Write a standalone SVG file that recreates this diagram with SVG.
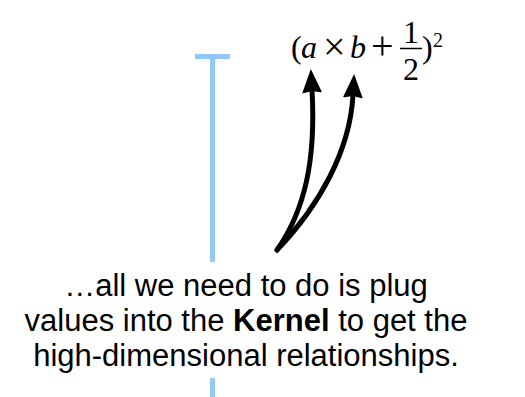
<svg xmlns="http://www.w3.org/2000/svg" width="525" height="397" viewBox="0 0 525 397">
<defs>
<style>
.axis{stroke:#90C8F8;stroke-width:5;fill:none}
.arrow{stroke:#000;stroke-width:5;fill:none;stroke-linecap:round}
.math{font-family:"Liberation Serif",serif;font-size:32px;fill:#000}
.op{font-size:40px}
.it{font-style:italic}
.caption{font-family:"Liberation Sans",Arial,sans-serif;font-size:31px;fill:#000;text-anchor:middle}
</style>
<marker id="head" markerUnits="userSpaceOnUse" markerWidth="24" markerHeight="22" refX="1" refY="10" orient="auto" viewBox="-2 0 24 20">
<path d="M0,10 L-2,0 L22,10 L-2,20 Z" fill="#000"/>
</marker>
</defs>
<g id="axis">
<line class="axis" x1="195" y1="56.5" x2="230" y2="56.5"/>
<line class="axis" x1="212.5" y1="54" x2="212.5" y2="262"/>
<line class="axis" x1="212.5" y1="378" x2="212.5" y2="397"/>
</g>
<g id="formula">
<text class="math" x="291" y="58">(</text>
<text class="math it" x="301" y="58">a</text>
<text class="math op" x="323" y="60">×</text>
<text class="math it" x="350" y="58">b</text>
<text class="math op" x="371" y="59">+</text>
<text class="math" x="403" y="43">1</text>
<line x1="400" y1="48.5" x2="422" y2="48.5" stroke="#000" stroke-width="1.5"/>
<text class="math" x="403" y="80">2</text>
<text class="math" x="422" y="58">)</text>
<text class="math" x="433" y="47" style="font-size:20px">2</text>
</g>
<g id="connectors">
<path class="arrow" d="M277,250 C305,210 316,160 312,90" marker-end="url(#head)"/>
<path class="arrow" d="M277,250 C320,205 350,150 353,95" marker-end="url(#head)"/>
</g>
<g id="caption">
<text class="caption" x="246" y="296">…all we need to do is plug</text>
<text class="caption" x="246" y="331">values into the <tspan font-weight="bold">Kernel</tspan> to get the</text>
<text class="caption" x="246" y="366">high-dimensional relationships.</text>
</g>
</svg>
